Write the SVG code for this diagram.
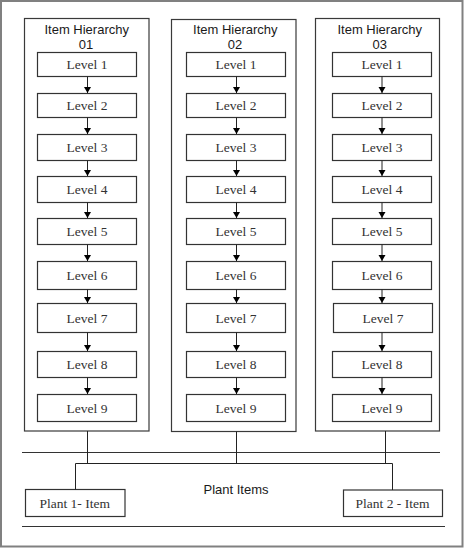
<svg xmlns="http://www.w3.org/2000/svg" width="464" height="548" viewBox="0 0 464 548">
<defs>
<style>
.frame{fill:#fff;stroke:#808080;stroke-width:2}
.col{fill:#fff;stroke:#3a3a3a;stroke-width:1.2}
.lvl{fill:#fff;stroke:#333;stroke-width:1.2}
.ln{stroke:#222;stroke-width:1;fill:none}
.sep{stroke:#333;stroke-width:1;fill:none}
.hd{font-family:"Liberation Sans",Arial,sans-serif;font-size:13px;fill:#1a1a1a;text-anchor:middle}
.lt{font-family:"Liberation Serif","Times New Roman",serif;font-size:13.5px;fill:#333;text-anchor:middle}
</style>
<marker id="ah" markerUnits="userSpaceOnUse" markerWidth="7" markerHeight="8" refX="6" refY="3.5" orient="auto">
<path d="M0,0 L6,3.5 L0,7 z" fill="#000"/>
</marker>
</defs>
<rect class="frame" x="1" y="1" width="461.5" height="545.5"/>

<g id="hierarchy01">
<rect class="col" x="24.5" y="18.5" width="124.5" height="412.5"/>
<text class="hd" x="86.7" y="34">Item Hierarchy</text>
<text class="hd" x="86" y="49">01</text>
<g id="h1-l1"><rect class="lvl" x="37.5" y="52.5" width="99" height="24"/><text class="lt" x="87" y="69">Level 1</text></g>
<g id="h1-l2"><rect class="lvl" x="37.5" y="93.5" width="99" height="24"/><text class="lt" x="87" y="110">Level 2</text></g>
<g id="h1-l3"><rect class="lvl" x="37.5" y="134.5" width="99" height="26"/><text class="lt" x="87" y="152">Level 3</text></g>
<g id="h1-l4"><rect class="lvl" x="37.5" y="176.5" width="99" height="26"/><text class="lt" x="87" y="194">Level 4</text></g>
<g id="h1-l5"><rect class="lvl" x="37.5" y="218.5" width="99" height="26"/><text class="lt" x="87" y="236">Level 5</text></g>
<g id="h1-l6"><rect class="lvl" x="37.5" y="261.5" width="99" height="28"/><text class="lt" x="87" y="280">Level 6</text></g>
<g id="h1-l7"><rect class="lvl" x="37.5" y="303.5" width="99" height="29"/><text class="lt" x="87" y="323">Level 7</text></g>
<g id="h1-l8"><rect class="lvl" x="37.5" y="351.5" width="99" height="26"/><text class="lt" x="87" y="369">Level 8</text></g>
<g id="h1-l9"><rect class="lvl" x="37.5" y="394.5" width="99" height="27"/><text class="lt" x="87" y="412.5">Level 9</text></g>
</g>

<g id="hierarchy02">
<rect class="col" x="171.5" y="19.5" width="124.5" height="412"/>
<text class="hd" x="235.3" y="34">Item Hierarchy</text>
<text class="hd" x="235" y="49">02</text>
<g id="h2-l1"><rect class="lvl" x="186.5" y="52.5" width="99" height="24"/><text class="lt" x="236" y="69">Level 1</text></g>
<g id="h2-l2"><rect class="lvl" x="186.5" y="93.5" width="99" height="24"/><text class="lt" x="236" y="110">Level 2</text></g>
<g id="h2-l3"><rect class="lvl" x="186.5" y="134.5" width="99" height="26"/><text class="lt" x="236" y="152">Level 3</text></g>
<g id="h2-l4"><rect class="lvl" x="186.5" y="176.5" width="99" height="26"/><text class="lt" x="236" y="194">Level 4</text></g>
<g id="h2-l5"><rect class="lvl" x="186.5" y="218.5" width="99" height="26"/><text class="lt" x="236" y="236">Level 5</text></g>
<g id="h2-l6"><rect class="lvl" x="186.5" y="261.5" width="99" height="28"/><text class="lt" x="236" y="280">Level 6</text></g>
<g id="h2-l7"><rect class="lvl" x="186.5" y="303.5" width="99" height="29"/><text class="lt" x="236" y="323">Level 7</text></g>
<g id="h2-l8"><rect class="lvl" x="186.5" y="351.5" width="99" height="26"/><text class="lt" x="236" y="369">Level 8</text></g>
<g id="h2-l9"><rect class="lvl" x="186.5" y="394.5" width="99" height="27"/><text class="lt" x="236" y="412.5">Level 9</text></g>
</g>

<g id="hierarchy03">
<rect class="col" x="315.5" y="18.5" width="124" height="412.5"/>
<text class="hd" x="379.7" y="34">Item Hierarchy</text>
<text class="hd" x="379.7" y="49">03</text>
<g id="h3-l1"><rect class="lvl" x="332.5" y="52.5" width="99" height="24"/><text class="lt" x="382" y="69">Level 1</text></g>
<g id="h3-l2"><rect class="lvl" x="332.5" y="93.5" width="99" height="24"/><text class="lt" x="382" y="110">Level 2</text></g>
<g id="h3-l3"><rect class="lvl" x="332.5" y="134.5" width="99" height="26"/><text class="lt" x="382" y="152">Level 3</text></g>
<g id="h3-l4"><rect class="lvl" x="332.5" y="176.5" width="99" height="26"/><text class="lt" x="382" y="194">Level 4</text></g>
<g id="h3-l5"><rect class="lvl" x="332.5" y="218.5" width="99" height="26"/><text class="lt" x="382" y="236">Level 5</text></g>
<g id="h3-l6"><rect class="lvl" x="332.5" y="261.5" width="99" height="28"/><text class="lt" x="382" y="280">Level 6</text></g>
<g id="h3-l7"><rect class="lvl" x="333.5" y="303.5" width="99" height="29"/><text class="lt" x="383" y="323">Level 7</text></g>
<g id="h3-l8"><rect class="lvl" x="332.5" y="351.5" width="99" height="26"/><text class="lt" x="382" y="369">Level 8</text></g>
<g id="h3-l9"><rect class="lvl" x="332.5" y="394.5" width="99" height="27"/><text class="lt" x="382" y="412.5">Level 9</text></g>
</g>

<g id="plant1"><rect class="lvl" x="25.5" y="489.5" width="99.5" height="27"/><text class="lt" x="74.7" y="507.5">Plant 1- Item</text></g>
<g id="plant2"><rect class="lvl" x="343.5" y="490" width="99" height="26.5"/><text class="lt" x="392.5" y="507.5">Plant 2 - Item</text></g>
<text id="plant-items" class="hd" x="236" y="494">Plant Items</text>

<g id="connectors">
<g class="ln" marker-end="url(#ah)">
<line x1="87.5" y1="76.5" x2="87.5" y2="93"/>
<line x1="87.5" y1="117.5" x2="87.5" y2="134"/>
<line x1="87.5" y1="160.5" x2="87.5" y2="176"/>
<line x1="87.5" y1="202.5" x2="87.5" y2="218"/>
<line x1="87.5" y1="244.5" x2="87.5" y2="261"/>
<line x1="87.5" y1="289.5" x2="87.5" y2="303"/>
<line x1="87.5" y1="332.5" x2="87.5" y2="351"/>
<line x1="87.5" y1="377.5" x2="87.5" y2="394"/>
<line x1="236.5" y1="76.5" x2="236.5" y2="93"/>
<line x1="236.5" y1="117.5" x2="236.5" y2="134"/>
<line x1="236.5" y1="160.5" x2="236.5" y2="176"/>
<line x1="236.5" y1="202.5" x2="236.5" y2="218"/>
<line x1="236.5" y1="244.5" x2="236.5" y2="261"/>
<line x1="236.5" y1="289.5" x2="236.5" y2="303"/>
<line x1="236.5" y1="332.5" x2="236.5" y2="351"/>
<line x1="236.5" y1="377.5" x2="236.5" y2="394"/>
<line x1="382" y1="76.5" x2="382" y2="93"/>
<line x1="382" y1="117.5" x2="382" y2="134"/>
<line x1="382" y1="160.5" x2="382" y2="176"/>
<line x1="382" y1="202.5" x2="382" y2="218"/>
<line x1="382" y1="244.5" x2="382" y2="261"/>
<line x1="382" y1="289.5" x2="382" y2="303"/>
<line x1="382" y1="332.5" x2="382" y2="351"/>
<line x1="382" y1="377.5" x2="382" y2="394"/>
</g>
<g class="sep">
<line x1="22" y1="452.5" x2="440" y2="452.5"/>
<line x1="22" y1="526.5" x2="445" y2="526.5"/>
</g>
<g class="ln">
<line x1="87.5" y1="431" x2="87.5" y2="463.5"/>
<line x1="236.5" y1="431.5" x2="236.5" y2="463.5"/>
<line x1="385.5" y1="431" x2="385.5" y2="463.5"/>
<polyline points="75.5,489.5 75.5,463.5 392.5,463.5 392.5,490"/>
</g>
</g>
</svg>
